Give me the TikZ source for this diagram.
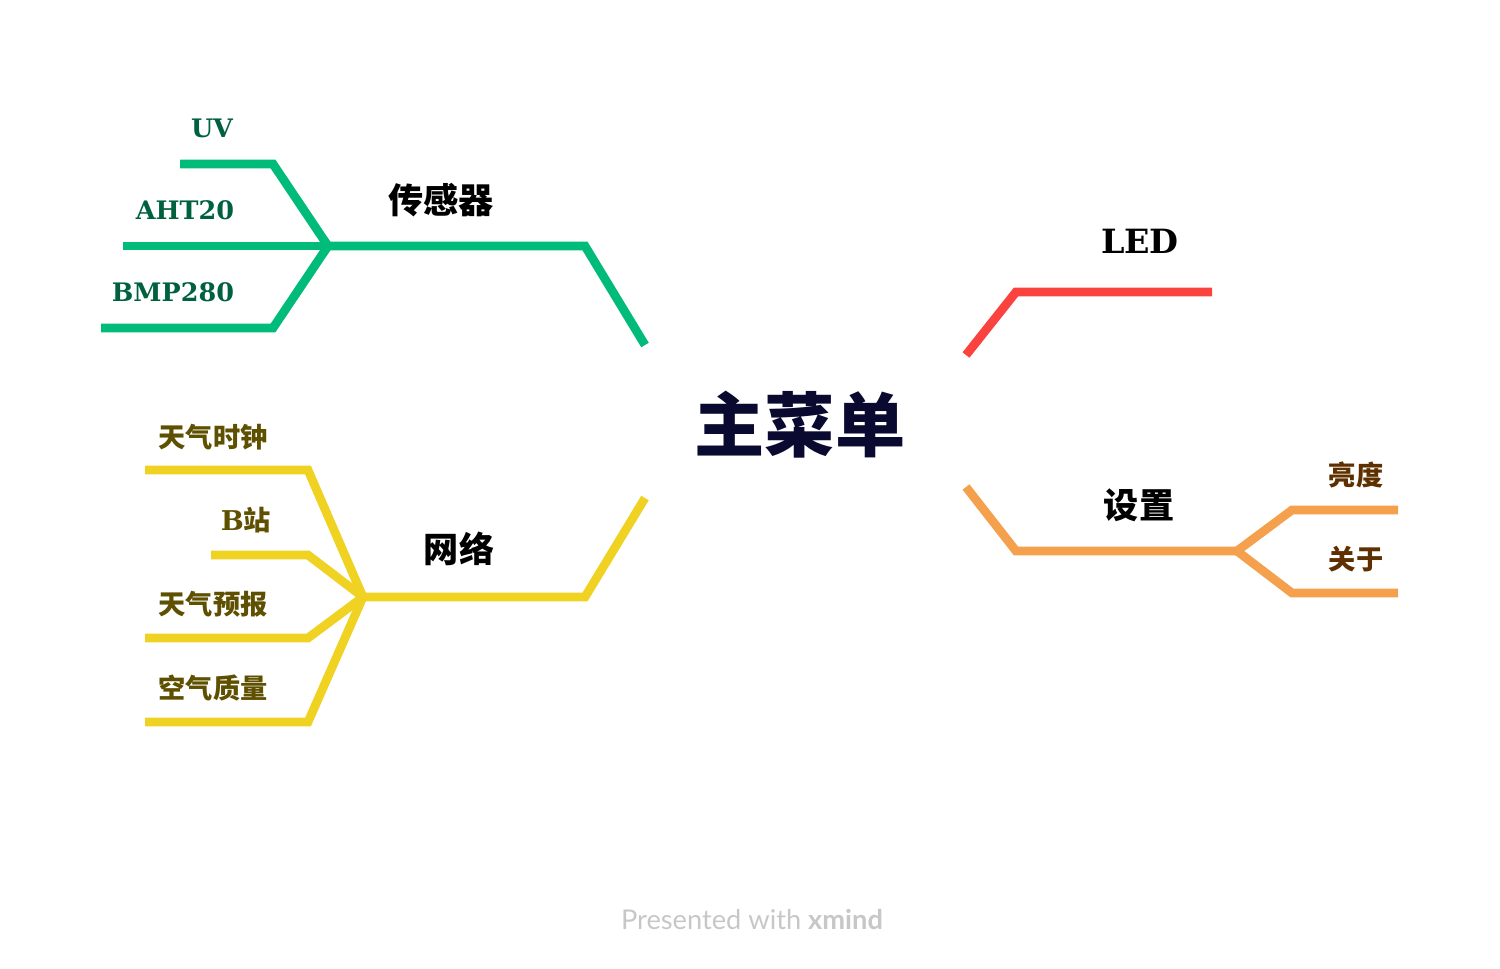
\documentclass[tikz,border=0pt]{standalone}
\usepackage{fontspec}
\usepackage{tikz}
\newfontfamily\cjk{Noto Sans CJK SC}
\newfontfamily\cjkblack{Noto Sans CJK SC Black}
\newfontfamily\slab{DejaVu Serif}[BoldFont={DejaVu Serif Bold}]
\newfontfamily\footfont{Lato}
\definecolor{sensorgreen}{HTML}{00BB7A}
\definecolor{sensortext}{HTML}{00613F}
\definecolor{netyellow}{HTML}{F0D223}
\definecolor{nettext}{HTML}{5E5000}
\definecolor{ledred}{HTML}{FA433E}
\definecolor{setorange}{HTML}{F5A04C}
\definecolor{settext}{HTML}{5E3000}
\definecolor{rootblue}{HTML}{0A0A30}
\tikzset{
    branch/.style={line width=5pt, line join=miter, line cap=butt},
    rootlabel/.style={font=\cjkblack\fontsize{40}{44}\selectfont, text=rootblue},
    toplabel/.style={font=\cjk\bfseries\fontsize{20}{24}\selectfont, text=black},
    subcjk/.style={font=\cjk\bfseries\fontsize{15.5}{18}\selectfont},
    subslab/.style={font=\slab\bfseries\fontsize{14.5}{18}\selectfont},
}

\begin{document}
\begin{tikzpicture}[x=0.02cm, y=-0.02cm]
    \useasboundingbox (0,0) rectangle (1500,968);

    % root
    \node[rootlabel] (root) at (800,425) {主菜单};
    \coordinate (root-nw) at (645,345);
    \coordinate (root-sw) at (645,498);
    \coordinate (root-ne) at (966,355);
    \coordinate (root-se) at (966,487);

    % sensors
    \node[toplabel] (sensor) at (441,200) {传感器};
    \coordinate (sensorhub) at (328,246);
    \draw[branch, sensorgreen] (root-nw) -- (585,246) -- (sensorhub);
    \coordinate (uv) at (180,164);
    \coordinate (aht) at (123,246);
    \coordinate (bmp) at (101,328);
    \draw[branch, sensorgreen] (sensorhub) -- (273,164) -- (uv);
    \draw[branch, sensorgreen] (sensorhub) -- (aht);
    \draw[branch, sensorgreen] (sensorhub) -- (273,328) -- (bmp);
    \node[subslab, text=sensortext] (uvlabel) at (212,128) {UV};
    \node[subslab, text=sensortext] (ahtlabel) at (185,210) {AHT20};
    \node[subslab, text=sensortext] (bmplabel) at (173,292) {BMP280};

    % network
    \node[toplabel] (network) at (459,549) {网络};
    \coordinate (nethub) at (363,597);
    \draw[branch, netyellow] (root-sw) -- (585,597) -- (nethub);
    \coordinate (clock) at (145,470);
    \coordinate (bili) at (211,555);
    \coordinate (forecast) at (145,638);
    \coordinate (air) at (145,722);
    \draw[branch, netyellow] (nethub) -- (308,470) -- (clock);
    \draw[branch, netyellow] (nethub) -- (308,555) -- (bili);
    \draw[branch, netyellow] (nethub) -- (308,638) -- (forecast);
    \draw[branch, netyellow] (nethub) -- (308,722) -- (air);
    \node[subcjk, text=nettext] (clocklabel) at (213,437) {天气时钟};
    \node[subcjk, text=nettext] (bililabel) at (246,520) {{\slab\bfseries B}站};
    \node[subcjk, text=nettext] (forecastlabel) at (213,604) {天气预报};
    \node[subcjk, text=nettext] (airlabel) at (213,688) {空气质量};

    % led
    \node[toplabel, font=\slab\bfseries\fontsize{19}{24}\selectfont] (led) at (1140,241) {LED};
    \coordinate (ledend) at (1212,292);
    \draw[branch, ledred] (root-ne) -- (1016,292) -- (ledend);

    % settings
    \node[toplabel] (settings) at (1139,505) {设置};
    \coordinate (sethub) at (1237,551);
    \draw[branch, setorange] (root-se) -- (1016,551) -- (sethub);
    \coordinate (bright) at (1398,510);
    \coordinate (about) at (1398,593);
    \draw[branch, setorange] (sethub) -- (1292,510) -- (bright);
    \draw[branch, setorange] (sethub) -- (1292,593) -- (about);
    \node[subcjk, text=settext] (brightlabel) at (1356,475) {亮度};
    \node[subcjk, text=settext] (aboutlabel) at (1356,559) {关于};

    % footer
    \node[font=\footfont\fontsize{15.5}{18}\selectfont, text=black!22] (footer) at (752,919) {Presented with \textbf{xmind}};
\end{tikzpicture}
\end{document}
